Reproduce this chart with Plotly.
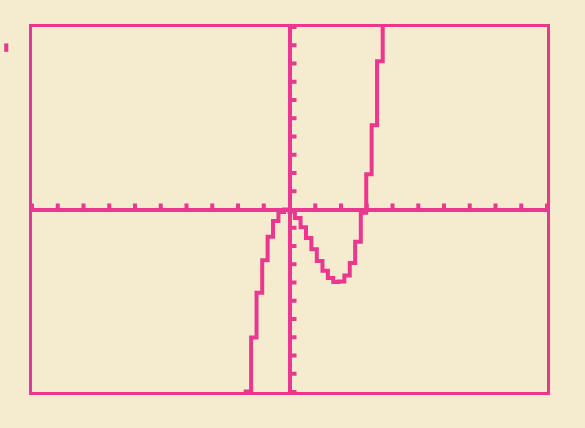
import plotly.graph_objects as go

# Window: Xmin=-10, Xmax=10, Xscl=1, Ymin=-10, Ymax=10, Yscl=1
x_range = [-10, 10]
y_range = [-10, 10]
x_ticks = [v for v in range(-10, 11) if v != 0]
y_ticks = [v for v in range(-10, 11) if v != 0]

# Curve points
curve_x = [-1.70, -1.49, -1.28, -1.06, -0.85, -0.64, -0.43, -0.21, 0.0, 0.21, 0.43,
           0.64, 0.85, 1.06, 1.28, 1.49, 1.70, 1.91, 2.13, 2.34, 2.55, 2.77, 2.98,
           3.19, 3.40, 3.62, 3.83]
curve_y = [-13.6, -9.97, -7.01, -4.56, -2.78, -1.49, -0.63, -0.14, 0.0, -0.12, -0.47,
           -0.97, -1.56, -2.18, -2.82, -3.35, -3.76, -3.97, -3.95, -3.62, -2.93, -1.77, -0.18,
           1.93, 4.62, 8.13, 12.17]

PINK = "#ea3790"
BG = "#f5ecd0"

fig = go.Figure()
fig.add_trace(go.Scatter(x=curve_x, y=curve_y, mode="lines",
                         line=dict(color=PINK, width=4, shape="vh"),
                         hoverinfo="skip", showlegend=False))

shapes = []
for t in x_ticks:
    shapes.append(dict(type="line", xref="x", yref="y", ysizemode="pixel", yanchor=0,
                       x0=t, x1=t, y0=0, y1=6, line=dict(color=PINK, width=4)))
for t in y_ticks:
    shapes.append(dict(type="line", xref="x", yref="y", xsizemode="pixel", xanchor=0,
                       y0=t, y1=t, x0=0, x1=7, line=dict(color=PINK, width=4)))
# small stray mark at left edge of screen
shapes.append(dict(type="rect", xref="paper", yref="paper", x0=-0.054, x1=-0.046,
                   y0=0.932, y1=0.955, fillcolor=PINK, line=dict(width=0)))

fig.update_layout(
    width=585, height=428,
    margin=dict(l=32, r=38, t=27, b=36),
    paper_bgcolor=BG, plot_bgcolor=BG,
    shapes=shapes,
    xaxis=dict(range=x_range, showgrid=False, showticklabels=False, ticks="",
               zeroline=True, zerolinecolor=PINK, zerolinewidth=4,
               showline=True, mirror=True, linecolor=PINK, linewidth=3),
    yaxis=dict(range=y_range, showgrid=False, showticklabels=False, ticks="",
               zeroline=True, zerolinecolor=PINK, zerolinewidth=4,
               showline=True, mirror=True, linecolor=PINK, linewidth=3),
)

fig.write_html(
    "out.html",
    config={"displayModeBar": False},
    post_script="document.body.style.margin='0';document.body.style.overflow='hidden';"
                "document.body.style.background='" + BG + "';",
)
